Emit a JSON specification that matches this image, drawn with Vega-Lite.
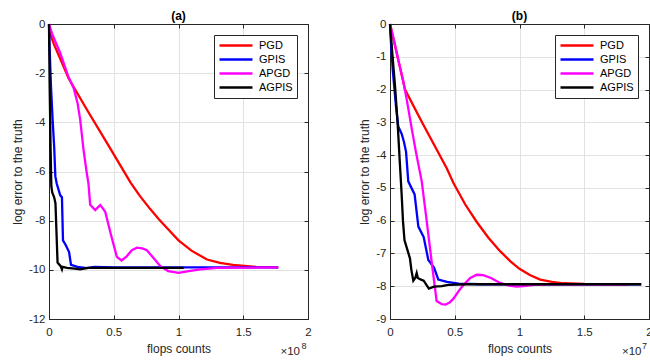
{
  "$schema": "https://vega.github.io/schema/vega-lite/v6.json",
  "background": "white",
  "padding": {"left": 11, "top": 10, "right": 0, "bottom": 0},
  "spacing": 46,
  "datasets": {
    "a": [
      {"method": "PGD", "x": 0, "y": 0}, {"method": "PGD", "x": 0.01, "y": -0.4}, {"method": "PGD", "x": 0.036, "y": -0.8}, {"method": "PGD", "x": 0.087, "y": -1.42}, {"method": "PGD", "x": 0.15, "y": -2.2}, {"method": "PGD", "x": 0.3, "y": -3.55}, {"method": "PGD", "x": 0.46, "y": -4.95}, {"method": "PGD", "x": 0.63, "y": -6.45}, {"method": "PGD", "x": 0.7, "y": -6.98}, {"method": "PGD", "x": 0.78, "y": -7.52}, {"method": "PGD", "x": 0.85, "y": -7.95}, {"method": "PGD", "x": 0.92, "y": -8.35}, {"method": "PGD", "x": 1.0, "y": -8.8}, {"method": "PGD", "x": 1.1, "y": -9.22}, {"method": "PGD", "x": 1.22, "y": -9.58}, {"method": "PGD", "x": 1.32, "y": -9.72}, {"method": "PGD", "x": 1.42, "y": -9.8}, {"method": "PGD", "x": 1.6, "y": -9.88}, {"method": "PGD", "x": 1.77, "y": -9.9},
      {"method": "GPIS", "x": 0, "y": 0}, {"method": "GPIS", "x": 0.005, "y": -1.0}, {"method": "GPIS", "x": 0.015, "y": -2.5}, {"method": "GPIS", "x": 0.028, "y": -3.9}, {"method": "GPIS", "x": 0.04, "y": -5.0}, {"method": "GPIS", "x": 0.049, "y": -6.2}, {"method": "GPIS", "x": 0.06, "y": -6.5}, {"method": "GPIS", "x": 0.087, "y": -6.97}, {"method": "GPIS", "x": 0.1, "y": -7.05}, {"method": "GPIS", "x": 0.108, "y": -8.8}, {"method": "GPIS", "x": 0.13, "y": -9.0}, {"method": "GPIS", "x": 0.155, "y": -9.28}, {"method": "GPIS", "x": 0.17, "y": -9.8}, {"method": "GPIS", "x": 0.22, "y": -9.88}, {"method": "GPIS", "x": 0.29, "y": -9.93}, {"method": "GPIS", "x": 0.35, "y": -9.88}, {"method": "GPIS", "x": 0.5, "y": -9.9}, {"method": "GPIS", "x": 1.0, "y": -9.9}, {"method": "GPIS", "x": 1.77, "y": -9.9},
      {"method": "APGD", "x": 0, "y": 0}, {"method": "APGD", "x": 0.023, "y": -0.38}, {"method": "APGD", "x": 0.087, "y": -1.19}, {"method": "APGD", "x": 0.15, "y": -2.15}, {"method": "APGD", "x": 0.19, "y": -2.6}, {"method": "APGD", "x": 0.22, "y": -3.2}, {"method": "APGD", "x": 0.241, "y": -3.9}, {"method": "APGD", "x": 0.267, "y": -5.13}, {"method": "APGD", "x": 0.29, "y": -6.0}, {"method": "APGD", "x": 0.305, "y": -6.5}, {"method": "APGD", "x": 0.318, "y": -7.35}, {"method": "APGD", "x": 0.357, "y": -7.57}, {"method": "APGD", "x": 0.396, "y": -7.36}, {"method": "APGD", "x": 0.434, "y": -7.64}, {"method": "APGD", "x": 0.48, "y": -8.6}, {"method": "APGD", "x": 0.524, "y": -9.47}, {"method": "APGD", "x": 0.56, "y": -9.62}, {"method": "APGD", "x": 0.6, "y": -9.45}, {"method": "APGD", "x": 0.64, "y": -9.2}, {"method": "APGD", "x": 0.679, "y": -9.1}, {"method": "APGD", "x": 0.72, "y": -9.13}, {"method": "APGD", "x": 0.756, "y": -9.2}, {"method": "APGD", "x": 0.82, "y": -9.6}, {"method": "APGD", "x": 0.86, "y": -9.85}, {"method": "APGD", "x": 0.92, "y": -10.05}, {"method": "APGD", "x": 1.0, "y": -10.12}, {"method": "APGD", "x": 1.08, "y": -10.05}, {"method": "APGD", "x": 1.167, "y": -9.98}, {"method": "APGD", "x": 1.3, "y": -9.92}, {"method": "APGD", "x": 1.77, "y": -9.9},
      {"method": "AGPIS", "x": 0, "y": 0}, {"method": "AGPIS", "x": 0.005, "y": -2.5}, {"method": "AGPIS", "x": 0.012, "y": -5.0}, {"method": "AGPIS", "x": 0.018, "y": -6.6}, {"method": "AGPIS", "x": 0.025, "y": -6.85}, {"method": "AGPIS", "x": 0.04, "y": -7.05}, {"method": "AGPIS", "x": 0.05, "y": -7.3}, {"method": "AGPIS", "x": 0.058, "y": -8.5}, {"method": "AGPIS", "x": 0.066, "y": -9.7}, {"method": "AGPIS", "x": 0.09, "y": -9.85}, {"method": "AGPIS", "x": 0.1, "y": -9.98}, {"method": "AGPIS", "x": 0.105, "y": -9.88}, {"method": "AGPIS", "x": 0.14, "y": -9.92}, {"method": "AGPIS", "x": 0.2, "y": -9.95}, {"method": "AGPIS", "x": 0.24, "y": -9.98}, {"method": "AGPIS", "x": 0.3, "y": -9.92}, {"method": "AGPIS", "x": 1.04, "y": -9.92}
    ],
    "b": [
      {"method": "PGD", "x": 0, "y": 0}, {"method": "PGD", "x": 0.03, "y": -0.5}, {"method": "PGD", "x": 0.07, "y": -1.2}, {"method": "PGD", "x": 0.116, "y": -2.0}, {"method": "PGD", "x": 0.245, "y": -2.98}, {"method": "PGD", "x": 0.438, "y": -4.4}, {"method": "PGD", "x": 0.49, "y": -4.85}, {"method": "PGD", "x": 0.58, "y": -5.5}, {"method": "PGD", "x": 0.67, "y": -6.04}, {"method": "PGD", "x": 0.76, "y": -6.52}, {"method": "PGD", "x": 0.85, "y": -6.93}, {"method": "PGD", "x": 0.93, "y": -7.24}, {"method": "PGD", "x": 1.0, "y": -7.47}, {"method": "PGD", "x": 1.08, "y": -7.66}, {"method": "PGD", "x": 1.16, "y": -7.8}, {"method": "PGD", "x": 1.25, "y": -7.87}, {"method": "PGD", "x": 1.34, "y": -7.91}, {"method": "PGD", "x": 1.5, "y": -7.93}, {"method": "PGD", "x": 1.84, "y": -7.94},
      {"method": "GPIS", "x": 0, "y": 0}, {"method": "GPIS", "x": 0.005, "y": -0.4}, {"method": "GPIS", "x": 0.021, "y": -1.4}, {"method": "GPIS", "x": 0.046, "y": -2.5}, {"method": "GPIS", "x": 0.064, "y": -3.13}, {"method": "GPIS", "x": 0.09, "y": -3.35}, {"method": "GPIS", "x": 0.108, "y": -3.6}, {"method": "GPIS", "x": 0.124, "y": -3.9}, {"method": "GPIS", "x": 0.141, "y": -4.8}, {"method": "GPIS", "x": 0.19, "y": -5.2}, {"method": "GPIS", "x": 0.219, "y": -6.18}, {"method": "GPIS", "x": 0.26, "y": -6.5}, {"method": "GPIS", "x": 0.296, "y": -7.2}, {"method": "GPIS", "x": 0.34, "y": -7.43}, {"method": "GPIS", "x": 0.373, "y": -7.8}, {"method": "GPIS", "x": 0.44, "y": -7.87}, {"method": "GPIS", "x": 0.53, "y": -7.92}, {"method": "GPIS", "x": 0.7, "y": -7.94}, {"method": "GPIS", "x": 1.0, "y": -7.94}, {"method": "GPIS", "x": 1.94, "y": -7.94},
      {"method": "APGD", "x": 0, "y": 0}, {"method": "APGD", "x": 0.03, "y": -0.5}, {"method": "APGD", "x": 0.064, "y": -1.1}, {"method": "APGD", "x": 0.1, "y": -1.7}, {"method": "APGD", "x": 0.129, "y": -2.3}, {"method": "APGD", "x": 0.168, "y": -3.2}, {"method": "APGD", "x": 0.2, "y": -3.9}, {"method": "APGD", "x": 0.245, "y": -4.8}, {"method": "APGD", "x": 0.28, "y": -5.9}, {"method": "APGD", "x": 0.32, "y": -7.2}, {"method": "APGD", "x": 0.36, "y": -8.45}, {"method": "APGD", "x": 0.4, "y": -8.55}, {"method": "APGD", "x": 0.43, "y": -8.56}, {"method": "APGD", "x": 0.46, "y": -8.5}, {"method": "APGD", "x": 0.49, "y": -8.38}, {"method": "APGD", "x": 0.53, "y": -8.15}, {"method": "APGD", "x": 0.57, "y": -7.95}, {"method": "APGD", "x": 0.62, "y": -7.75}, {"method": "APGD", "x": 0.67, "y": -7.65}, {"method": "APGD", "x": 0.72, "y": -7.66}, {"method": "APGD", "x": 0.78, "y": -7.75}, {"method": "APGD", "x": 0.85, "y": -7.9}, {"method": "APGD", "x": 0.92, "y": -7.98}, {"method": "APGD", "x": 0.98, "y": -8.01}, {"method": "APGD", "x": 1.05, "y": -7.99}, {"method": "APGD", "x": 1.13, "y": -7.95}, {"method": "APGD", "x": 1.3, "y": -7.94}, {"method": "APGD", "x": 1.84, "y": -7.94},
      {"method": "AGPIS", "x": 0, "y": 0}, {"method": "AGPIS", "x": 0.02, "y": -1.0}, {"method": "AGPIS", "x": 0.039, "y": -1.9}, {"method": "AGPIS", "x": 0.06, "y": -3.1}, {"method": "AGPIS", "x": 0.077, "y": -4.3}, {"method": "AGPIS", "x": 0.09, "y": -5.2}, {"method": "AGPIS", "x": 0.1, "y": -6.0}, {"method": "AGPIS", "x": 0.112, "y": -6.6}, {"method": "AGPIS", "x": 0.135, "y": -6.9}, {"method": "AGPIS", "x": 0.154, "y": -7.15}, {"method": "AGPIS", "x": 0.165, "y": -7.5}, {"method": "AGPIS", "x": 0.18, "y": -7.83}, {"method": "AGPIS", "x": 0.195, "y": -7.75}, {"method": "AGPIS", "x": 0.206, "y": -7.6}, {"method": "AGPIS", "x": 0.215, "y": -7.75}, {"method": "AGPIS", "x": 0.24, "y": -7.8}, {"method": "AGPIS", "x": 0.26, "y": -7.83}, {"method": "AGPIS", "x": 0.3, "y": -8.07}, {"method": "AGPIS", "x": 0.34, "y": -8.01}, {"method": "AGPIS", "x": 0.4, "y": -8.0}, {"method": "AGPIS", "x": 0.45, "y": -7.96}, {"method": "AGPIS", "x": 0.6, "y": -7.94}, {"method": "AGPIS", "x": 1.0, "y": -7.94}, {"method": "AGPIS", "x": 1.94, "y": -7.94}
    ]
  },
  "hconcat": [
    {
      "width": 259, "height": 295,
      "title": "(a)",
      "layer": [
        {
          "data": {"name": "a"},
          "mark": {"type": "line", "strokeWidth": 2.3},
          "encoding": {
            "x": {"field": "x", "type": "quantitative", "scale": {"domain": [0, 2], "nice": false},
                  "axis": {"orient": "bottom", "values": [0, 0.5, 1, 1.5, 2], "labelExpr": "'' + datum.value", "title": "flops counts", "grid": true, "labelPadding": 11, "titlePadding": 6}},
            "y": {"field": "y", "type": "quantitative", "scale": {"domain": [-12, 0], "nice": false},
                  "axis": {"orient": "left", "values": [-12, -10, -8, -6, -4, -2, 0], "labelExpr": "'' + datum.value", "title": "log error to the truth", "grid": true}},
            "color": {"field": "method", "type": "nominal",
                      "scale": {"domain": ["PGD", "GPIS", "APGD", "AGPIS"], "range": ["#ff0000", "#0000ff", "#ff00ff", "#000000"]},
                      "legend": {"title": null}}
          }
        },
        {
          "data": {"name": "a"},
          "mark": {"type": "point", "opacity": 0},
          "encoding": {
            "x": {"field": "x", "type": "quantitative", "scale": {"domain": [0, 2], "nice": false},
                  "axis": {"orient": "top", "values": [0, 0.5, 1, 1.5, 2], "labels": false, "title": null, "grid": false}},
            "y": {"field": "y", "type": "quantitative", "scale": {"domain": [-12, 0], "nice": false},
                  "axis": {"orient": "right", "values": [-12, -10, -8, -6, -4, -2, 0], "labels": false, "title": null, "grid": false}}
          }
        },
        {
          "data": {"values": [{}]},
          "mark": {"type": "text", "align": "right", "baseline": "alphabetic", "dx": -8, "dy": 36, "fontSize": 11.5, "color": "#262626"},
          "encoding": {
            "x": {"datum": 2, "type": "quantitative", "axis": null},
            "y": {"datum": -12, "type": "quantitative", "axis": null},
            "text": {"value": "×10"}
          }
        },
        {
          "data": {"values": [{}]},
          "mark": {"type": "text", "align": "left", "baseline": "alphabetic", "dx": -6.5, "dy": 30, "fontSize": 9, "color": "#262626"},
          "encoding": {
            "x": {"datum": 2, "type": "quantitative", "axis": null},
            "y": {"datum": -12, "type": "quantitative", "axis": null},
            "text": {"value": "8"}
          }
        }
      ],
      "resolve": {"axis": {"x": "independent", "y": "independent"}}
    },
    {
      "width": 259, "height": 295,
      "title": "(b)",
      "layer": [
        {
          "data": {"name": "b"},
          "mark": {"type": "line", "strokeWidth": 2.3},
          "encoding": {
            "x": {"field": "x", "type": "quantitative", "scale": {"domain": [0, 2], "nice": false},
                  "axis": {"orient": "bottom", "values": [0, 0.5, 1, 1.5, 2], "labelExpr": "'' + datum.value", "title": "flops counts", "grid": true, "labelPadding": 11, "titlePadding": 6}},
            "y": {"field": "y", "type": "quantitative", "scale": {"domain": [-9, 0], "nice": false},
                  "axis": {"orient": "left", "values": [-9, -8, -7, -6, -5, -4, -3, -2, -1, 0], "labelExpr": "'' + datum.value", "title": "log error to the truth", "grid": true}},
            "color": {"field": "method", "type": "nominal",
                      "scale": {"domain": ["PGD", "GPIS", "APGD", "AGPIS"], "range": ["#ff0000", "#0000ff", "#ff00ff", "#000000"]},
                      "legend": {"title": null}}
          }
        },
        {
          "data": {"name": "b"},
          "mark": {"type": "point", "opacity": 0},
          "encoding": {
            "x": {"field": "x", "type": "quantitative", "scale": {"domain": [0, 2], "nice": false},
                  "axis": {"orient": "top", "values": [0, 0.5, 1, 1.5, 2], "labels": false, "title": null, "grid": false}},
            "y": {"field": "y", "type": "quantitative", "scale": {"domain": [-9, 0], "nice": false},
                  "axis": {"orient": "right", "values": [-9, -8, -7, -6, -5, -4, -3, -2, -1, 0], "labels": false, "title": null, "grid": false}}
          }
        },
        {
          "data": {"values": [{}]},
          "mark": {"type": "text", "align": "right", "baseline": "alphabetic", "dx": -7.5, "dy": 36, "fontSize": 11.5, "color": "#262626"},
          "encoding": {
            "x": {"datum": 2, "type": "quantitative", "axis": null},
            "y": {"datum": -9, "type": "quantitative", "axis": null},
            "text": {"value": "×10"}
          }
        },
        {
          "data": {"values": [{}]},
          "mark": {"type": "text", "align": "left", "baseline": "alphabetic", "dx": -7, "dy": 30, "fontSize": 9, "color": "#262626"},
          "encoding": {
            "x": {"datum": 2, "type": "quantitative", "axis": null},
            "y": {"datum": -9, "type": "quantitative", "axis": null},
            "text": {"value": "7"}
          }
        }
      ],
      "resolve": {"axis": {"x": "independent", "y": "independent"}}
    }
  ],
  "resolve": {"legend": {"color": "independent"}, "scale": {"color": "independent"}},
  "config": {
    "font": "Liberation Sans",
    "view": {"stroke": null},
    "title": {"fontSize": 12, "fontWeight": "bold", "color": "#000000", "offset": -5, "font": "Liberation Sans"},
    "axis": {
      "labelFont": "Liberation Sans", "labelFontSize": 11.5, "labelColor": "#262626",
      "titleFont": "Liberation Sans", "titleFontSize": 12, "titleFontWeight": "normal", "titleColor": "#262626",
      "domainColor": "#262626", "domainWidth": 1, "tickColor": "#262626", "tickSize": -4, "labelPadding": 8,
      "gridColor": "#e2e2e2", "gridOpacity": 1, "labelFlush": false, "labelOverlap": false, "titlePadding": 4
    },
    "legend": {
      "orient": "top-right", "offset": 11, "strokeColor": "#262626", "fillColor": "#ffffff", "padding": 4,
      "symbolType": "stroke", "symbolSize": 1089, "symbolStrokeWidth": 2.3, "labelFont": "Liberation Sans", "labelFontSize": 11, "labelColor": "#000000",
      "clipHeight": 13, "rowPadding": 1, "labelOffset": 5
    }
  }
}
